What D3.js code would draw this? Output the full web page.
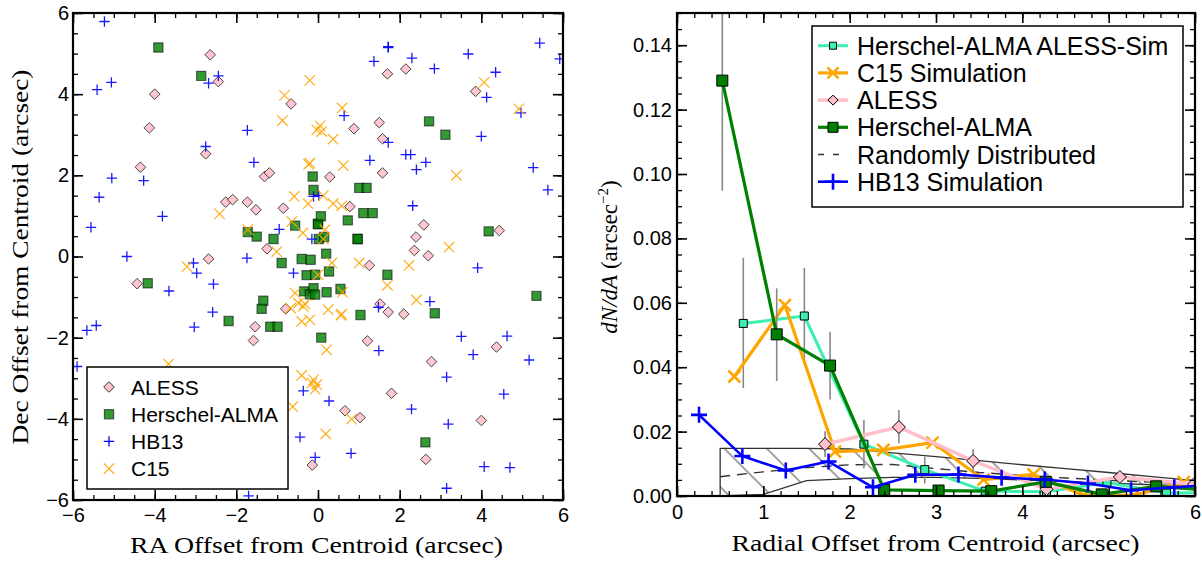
<!DOCTYPE html>
<html>
<head>
<meta charset="utf-8">
<script src="https://cdn.jsdelivr.net/npm/d3@7"></script>
<style>
	body { margin: 0; background: #fff; }
	svg { display: block; }
	.tick text { font-family: "Liberation Sans", Arial, sans-serif; font-size: 20px; fill: #000; }
	.tick line { stroke: #000; }
	.lab { font-family: "Liberation Serif", "Times New Roman", serif; font-size: 23px; fill: #000; }
	.leg { font-family: "Liberation Sans", Arial, sans-serif; fill: #000; }
</style>
</head>
<body>
<svg id="fig" width="1202" height="563"></svg>
<script>
// ---- Left panel: source positions (arcsec offsets from centroid) ----
var alessPts = [[-2.64,4.97],[-2.44,4.31],[-4.00,4.00],[-4.13,3.17],[-0.66,3.76],[-2.75,2.53],[-4.35,2.20],[-1.31,1.97],[-1.19,2.06],[-2.26,1.34],[-2.09,1.40],[-1.73,1.34],[-1.52,1.15],[-0.85,1.19],[-1.25,0.19],[-2.68,-0.06],[1.70,4.50],[2.15,4.62],[3.86,4.07],[0.88,3.15],[1.50,3.30],[1.58,2.90],[1.58,2.06],[0.29,1.96],[0.78,1.23],[2.59,0.78],[2.40,0.48],[2.36,0.15],[2.70,0.02],[4.44,0.64],[1.26,-0.22],[-4.43,-0.67],[-0.79,-1.29],[-1.54,-1.73],[-1.58,-2.07],[-0.14,-5.14],[1.52,-1.17],[1.72,-1.37],[2.10,-1.42],[1.21,-2.08],[2.78,-2.59],[4.37,-2.23],[1.80,-3.37],[0.66,-3.80],[1.03,-3.97],[4.00,-4.04],[2.64,-5.00]];

var haPts = [[-3.91,5.15],[-2.86,4.45],[-1.72,0.60],[-1.50,0.49],[-1.09,0.43],[-0.56,0.76],[-0.89,-0.16],[-0.13,1.97],[-0.11,1.64],[-0.40,-0.06],[-0.18,-0.08],[0.00,0.80],[0.00,0.80],[0.02,0.43],[2.72,3.33],[3.12,3.00],[1.01,1.69],[1.19,1.69],[1.11,1.07],[1.34,1.07],[0.73,0.89],[0.07,0.99],[0.97,0.43],[0.97,0.43],[0.15,0.48],[4.18,0.62],[0.20,0.07],[1.70,-0.45],[0.27,-0.37],[-0.28,-0.46],[-0.07,-0.45],[-4.17,-0.66],[-2.19,-1.59],[-1.34,-1.09],[-1.38,-1.29],[-1.17,-1.73],[-0.99,-1.73],[-0.34,-0.86],[-0.20,-0.93],[-0.11,-0.78],[0.08,-2.00],[5.35,-0.97],[2.86,-1.40],[1.04,-1.44],[2.63,-4.58],[0.21,-0.88],[0.55,-0.80],[-0.07,-0.94]];

var hb13Pts = [[-5.23,5.79],[-5.41,4.11],[-5.06,4.29],[-2.68,4.27],[-2.44,4.45],[-1.73,3.11],[-2.75,2.71],[-1.57,2.32],[-5.05,1.93],[-4.27,1.87],[-5.36,1.46],[-3.81,0.99],[-5.56,0.72],[-4.68,0.00],[-1.74,-0.04],[-0.95,0.67],[-3.05,-0.16],[-2.97,-0.41],[-0.60,-0.41],[-0.11,1.48],[0.02,1.50],[-0.15,0.43],[1.72,5.15],[1.72,5.17],[1.37,4.81],[2.30,4.89],[2.85,4.63],[3.68,4.99],[4.35,4.54],[5.43,5.26],[5.92,4.87],[4.13,3.92],[4.97,3.54],[0.64,3.47],[1.72,2.81],[4.00,2.96],[1.27,2.37],[2.15,2.51],[2.27,2.51],[2.64,2.32],[2.41,2.14],[5.27,2.19],[5.63,1.64],[2.32,1.25],[3.91,-0.28],[-3.65,-0.85],[-2.56,-0.68],[-2.58,-1.37],[-3.03,-1.74],[-5.66,-1.82],[-5.43,-1.70],[-5.90,-2.71],[-0.36,-3.31],[-0.44,-4.45],[-0.07,-4.95],[-1.70,-5.90],[2.74,-1.11],[1.48,-1.25],[3.51,-1.97],[4.63,-1.96],[3.80,-2.42],[5.17,-2.55],[1.49,-2.32],[3.15,-2.97],[4.55,-3.39],[2.29,-3.76],[0.27,-3.56],[3.19,-4.13],[0.81,-4.85],[4.07,-5.18],[4.70,-5.20],[3.15,-5.71]];

var c15Pts = [[-0.20,4.34],[-0.82,3.97],[-0.87,3.35],[-0.03,3.12],[-0.20,2.30],[-0.23,2.27],[-2.41,1.05],[-1.72,0.66],[-0.58,1.48],[-0.24,1.30],[-0.64,0.86],[-0.37,0.58],[-1.01,0.12],[-3.21,-0.25],[0.59,3.66],[4.07,4.29],[4.92,3.64],[0.05,3.22],[0.09,3.08],[0.37,2.89],[0.62,2.24],[3.39,2.00],[0.13,1.50],[0.37,1.30],[0.58,1.25],[0.17,0.66],[0.13,0.43],[0.34,-0.16],[1.01,-0.16],[2.23,-0.22],[3.21,0.23],[0.00,-0.45],[-3.66,-2.65],[-0.62,-3.70],[-0.40,-2.93],[-0.15,-3.12],[-0.07,-3.27],[-0.11,-3.04],[-0.56,-0.90],[-0.48,-1.15],[-0.36,-1.23],[-0.40,-1.60],[-0.20,-1.56],[-0.67,-1.27],[-0.32,-1.17],[1.70,-0.71],[2.41,-1.07],[0.60,-0.88],[0.25,-1.31],[0.58,-1.42],[0.56,-1.45],[0.21,-2.30],[-0.03,-3.16],[0.82,-4.01],[0.19,-4.37]];

var leftLegend = ["ALESS", "Herschel-ALMA", "HB13", "C15"];

// ---- Right panel: radial profiles dN/dA ----
var haR = [0.525, 1.155, 1.773, 2.40, 3.03, 3.64, 4.27, 4.92, 5.55, 6.18];
var haD = [0.129, 0.0502, 0.0405, 0.0019, 0.0017, 0.0015, 0.0044, 0.0005, 0.0030, 0.0018];
var haErr = [[0.0948, 0.163], [0.0357, 0.0645], [0.030, 0.051]];

var simR = [0.768, 1.475, 2.165, 2.87, 3.57, 4.28, 4.98, 5.67, 6.37];
var simD = [0.0536, 0.0559, 0.0161, 0.0082, 0.0015, 0.0013, 0.0042, 0.0009, 0.0012];
var simErr = [[0.0335, 0.074], [0.041, 0.0708], [0.0086, 0.0236], [0.0039, 0.0122]];

var c15R = [0.664, 1.25, 1.83, 2.39, 2.96, 3.55, 4.13, 4.71, 5.29, 5.87];
var c15D = [0.0371, 0.0593, 0.0138, 0.0143, 0.0166, 0.0051, 0.0067, 0.0002, 0.0002, 0.0043];

var alessR = [1.715, 2.57, 3.43, 4.28, 5.13, 5.99];
var alessD = [0.0161, 0.0214, 0.0109, 0.0021, 0.0059, 0.0037];
var alessErr = [[0.0121, 0.0201], [0.0164, 0.0267], [0.0073, 0.0145], null, [0.0045, 0.0075]];

var hbR = [0.255, 0.757, 1.26, 1.755, 2.27, 2.76, 3.26, 3.76, 4.26, 4.76, 5.26, 5.76, 6.26];
var hbD = [0.0252, 0.0124, 0.0079, 0.0107, 0.0027, 0.0066, 0.0067, 0.0057, 0.0051, 0.0039, 0.0018, 0.0027, 0.0035];

var randR = [0.5, 1.0, 1.5, 2.0, 2.5, 3.0, 3.5, 4.0, 4.5, 5.0, 5.5, 6.0];
var randMean = [0.0060, 0.0075, 0.0088, 0.0097, 0.0098, 0.0085, 0.0073, 0.0064, 0.0056, 0.0049, 0.0043, 0.0037];
var randHi = [0.0148, 0.0148, 0.0148, 0.0146, 0.0134, 0.0122, 0.0110, 0.0097, 0.0085, 0.0073, 0.0060, 0.0048];
var randLo = [0.0, 0.0005, 0.0048, 0.0054, 0.0058, 0.0058, 0.0055, 0.0050, 0.0045, 0.0040, 0.0035, 0.0030];

var rightLegend = ["Herschel-ALMA ALESS-Sim", "C15 Simulation", "ALESS", "Herschel-ALMA", "Randomly Distributed", "HB13 Simulation"];

var svg = d3.select("#fig");

// Marker path helpers
function diamond(s) { return "M0," + (-s) + "L" + s + ",0L0," + s + "L" + (-s) + ",0Z"; }
function square(s) { return "M" + (-s) + "," + (-s) + "H" + s + "V" + s + "H" + (-s) + "Z"; }
function plus(s) { return "M" + (-s) + ",0H" + s + "M0," + (-s) + "V" + s; }
function cross(s) { return "M" + (-s) + "," + (-s) + "L" + s + "," + s + "M" + (-s) + "," + s + "L" + s + "," + (-s); }

// Inward ticks on all four sides plus a heavy frame
function frame(x, y, xMaj, xMin, yMaj, yMin, xFmt, yFmt, xPad, yPad) {
	var x0 = x.range()[0], x1 = x.range()[1], y0 = y.range()[0], y1 = y.range()[1];
	var g = svg.append("g");
	var sets = [
		[d3.axisBottom(x).tickValues(xMaj).tickFormat(xFmt).tickPadding(xPad), "translate(0," + y0 + ")", 10],
		[d3.axisBottom(x).tickValues(xMin).tickFormat(""), "translate(0," + y0 + ")", 5],
		[d3.axisTop(x).tickValues(xMaj).tickFormat(""), "translate(0," + y1 + ")", 10],
		[d3.axisTop(x).tickValues(xMin).tickFormat(""), "translate(0," + y1 + ")", 5],
		[d3.axisLeft(y).tickValues(yMaj).tickFormat(yFmt).tickPadding(yPad), "translate(" + x0 + ",0)", 10],
		[d3.axisLeft(y).tickValues(yMin).tickFormat(""), "translate(" + x0 + ",0)", 5],
		[d3.axisRight(y).tickValues(yMaj).tickFormat(""), "translate(" + x1 + ",0)", 10],
		[d3.axisRight(y).tickValues(yMin).tickFormat(""), "translate(" + x1 + ",0)", 5]
	];
	sets.forEach(function (s) {
		var a = g.append("g").attr("transform", s[1]).call(s[0].tickSizeInner(-s[2]).tickSizeOuter(0));
		a.select(".domain").remove();
		a.selectAll(".tick line").attr("stroke-width", s[2] == 10 ? 1.6 : 1.3);
	});
	g.append("rect").attr("x", x0).attr("y", y1).attr("width", x1 - x0).attr("height", y0 - y1)
		.attr("fill", "none").attr("stroke", "#000").attr("stroke-width", 2.2);
}

function range(a, b, step) {
	var out = [];
	for (var v = a; v <= b + 1e-9; v += step) out.push(+v.toFixed(4));
	return out;
}

// ================= LEFT PANEL =================
var xL = d3.scaleLinear().domain([-6, 6]).range([73, 563]);
var yL = d3.scaleLinear().domain([-6, 6]).range([500, 13]);

svg.append("clipPath").attr("id", "clipL").append("rect")
	.attr("x", 73).attr("y", 13).attr("width", 490).attr("height", 487);
var gL = svg.append("g").attr("clip-path", "url(#clipL)");

gL.selectAll("path.aless").data(alessPts).enter().append("path")
	.attr("transform", function (d) { return "translate(" + xL(d[0]) + "," + yL(d[1]) + ")"; })
	.attr("d", diamond(5.3)).attr("fill", "pink").attr("stroke", "#333").attr("stroke-width", 1).attr("opacity", 0.9);
gL.selectAll("path.ha").data(haPts).enter().append("path")
	.attr("transform", function (d) { return "translate(" + xL(d[0]) + "," + yL(d[1]) + ")"; })
	.attr("d", square(4.6)).attr("fill", "green").attr("fill-opacity", 0.8)
	.attr("stroke", "#000").attr("stroke-opacity", 0.55).attr("stroke-width", 1.2);
gL.selectAll("path.hb").data(hb13Pts).enter().append("path")
	.attr("transform", function (d) { return "translate(" + xL(d[0]) + "," + yL(d[1]) + ")"; })
	.attr("d", plus(5.2)).attr("fill", "none").attr("stroke", "blue").attr("stroke-width", 1.3).attr("opacity", 0.9);
gL.selectAll("path.c15").data(c15Pts).enter().append("path")
	.attr("transform", function (d) { return "translate(" + xL(d[0]) + "," + yL(d[1]) + ")"; })
	.attr("d", cross(5.2)).attr("fill", "none").attr("stroke", "orange").attr("stroke-width", 1.2).attr("opacity", 0.9);

frame(xL, yL, range(-6, 6, 2), range(-6, 6, 0.5), range(-6, 6, 2), range(-6, 6, 0.5),
	d3.format("d"), d3.format("d"), 8, 4);

// left legend
var legL = svg.append("g");
legL.append("rect").attr("x", 87).attr("y", 367).attr("width", 201).attr("height", 122)
	.attr("fill", "#fff").attr("stroke", "#000").attr("stroke-width", 1.5);
var legLMarks = [
	function (g) { g.append("path").attr("d", diamond(5.3)).attr("fill", "pink").attr("stroke", "#333"); },
	function (g) { g.append("path").attr("d", square(4.6)).attr("fill", "green").attr("fill-opacity", 0.8).attr("stroke", "#000").attr("stroke-opacity", 0.55).attr("stroke-width", 1.2); },
	function (g) { g.append("path").attr("d", plus(5.2)).attr("stroke", "blue").attr("stroke-width", 1.3); },
	function (g) { g.append("path").attr("d", cross(5.2)).attr("stroke", "orange").attr("stroke-width", 1.2); }
];
leftLegend.forEach(function (t, i) {
	var cy = 387 + i * 27.2;
	legLMarks[i](legL.append("g").attr("transform", "translate(109," + cy + ")"));
	legL.append("text").attr("class", "leg").attr("x", 131).attr("y", cy + 7.5)
		.style("font-size", "21px").text(t);
});

// left axis titles
svg.append("text").attr("class", "lab").attr("x", 316.5).attr("y", 553).attr("text-anchor", "middle")
	.attr("textLength", 373).attr("lengthAdjust", "spacingAndGlyphs")
	.text("RA Offset from Centroid (arcsec)");
svg.append("text").attr("class", "lab").attr("transform", "translate(28,257) rotate(-90)")
	.attr("text-anchor", "middle").attr("textLength", 375).attr("lengthAdjust", "spacingAndGlyphs")
	.text("Dec Offset from Centroid (arcsec)");

// ================= RIGHT PANEL =================
var xR = d3.scaleLinear().domain([0, 6]).range([677, 1195]);
var yR = d3.scaleLinear().domain([0, 0.15]).range([496, 13]);

var defs = svg.append("defs");
defs.append("clipPath").attr("id", "clipR").append("rect")
	.attr("x", 677).attr("y", 13).attr("width", 518).attr("height", 483);
var hatch = defs.append("pattern").attr("id", "hatch").attr("patternUnits", "userSpaceOnUse")
	.attr("width", 30).attr("height", 30).attr("patternTransform", "rotate(-45)");
hatch.append("line").attr("x1", 15).attr("y1", 0).attr("x2", 15).attr("y2", 30)
	.attr("stroke", "#333").attr("stroke-width", 0.9);

var gR = svg.append("g").attr("clip-path", "url(#clipR)");

// random-distribution envelope and mean
var envelope = d3.area()
	.x(function (d, i) { return xR(randR[i]); })
	.y0(function (d, i) { return yR(randLo[i]); })
	.y1(function (d, i) { return yR(randHi[i]); });
gR.append("path").datum(randR).attr("d", envelope)
	.attr("fill", "url(#hatch)").attr("stroke", "#333").attr("stroke-width", 1.3);
gR.append("path").datum(randR)
	.attr("d", d3.line().x(function (d) { return xR(d); }).y(function (d, i) { return yR(randMean[i]); }))
	.attr("fill", "none").attr("stroke", "#333").attr("stroke-width", 1.4).attr("stroke-dasharray", "10,7");

function errBars(rs, errs) {
	errs.forEach(function (e, i) {
		if (!e) return;
		gR.append("line").attr("x1", xR(rs[i])).attr("x2", xR(rs[i]))
			.attr("y1", yR(e[0])).attr("y2", yR(e[1]))
			.attr("stroke", "#888").attr("stroke-width", 1.6);
	});
}

function series(rs, ds, color, width, marker, mStyle) {
	var pts = rs.map(function (r, i) { return [r, ds[i]]; });
	gR.append("path").datum(pts)
		.attr("d", d3.line().x(function (d) { return xR(d[0]); }).y(function (d) { return yR(d[1]); }))
		.attr("fill", "none").attr("stroke", color).attr("stroke-width", width).attr("stroke-linejoin", "round");
	var m = gR.selectAll(null).data(pts).enter().append("path")
		.attr("transform", function (d) { return "translate(" + xR(d[0]) + "," + yR(d[1]) + ")"; })
		.attr("d", marker);
	mStyle(m);
}

var styles = {
	sim: function (m) { m.attr("fill", "#3cf0b0").attr("stroke", "#000").attr("stroke-width", 1); },
	c15: function (m) { m.attr("fill", "none").attr("stroke", "orange").attr("stroke-width", 2.6); },
	aless: function (m) { m.attr("fill", "pink").attr("stroke", "#000").attr("stroke-width", 1); },
	ha: function (m) { m.attr("fill", "green").attr("stroke", "#000").attr("stroke-width", 1); },
	hb: function (m) { m.attr("fill", "none").attr("stroke", "blue").attr("stroke-width", 2.6); }
};

errBars(simR, simErr);
series(simR, simD, "#3cf0b0", 3, square(4), styles.sim);
series(c15R, c15D, "orange", 3.2, cross(6), styles.c15);
errBars(alessR, alessErr);
series(alessR, alessD, "pink", 3.6, diamond(6.5), styles.aless);
errBars(haR, haErr);
series(haR, haD, "green", 3.2, square(5.5), styles.ha);
series(hbR, hbD, "blue", 2.6, plus(8), styles.hb);

frame(xR, yR, range(0, 6, 1), range(0, 6, 0.2), range(0, 0.14, 0.02), range(0, 0.15, 0.005),
	d3.format("d"), d3.format(".2f"), 9, 5);

// right legend
var legR = svg.append("g");
legR.append("rect").attr("x", 812).attr("y", 26).attr("width", 371).attr("height", 181)
	.attr("fill", "#fff").attr("stroke", "#000").attr("stroke-width", 1.5);
var legRItems = [
	["#3cf0b0", 3, square(3.5), styles.sim, null],
	["orange", 3.2, cross(5.5), styles.c15, null],
	["pink", 3.6, diamond(5), styles.aless, null],
	["green", 3.2, square(5), styles.ha, null],
	["#333", 1.4, null, null, "6,9"],
	["blue", 2.6, plus(8), styles.hb, null]
];
rightLegend.forEach(function (t, i) {
	var cy = 45.7 + i * 27.2;
	var it = legRItems[i];
	legR.append("line").attr("x1", 818).attr("x2", 848).attr("y1", cy).attr("y2", cy)
		.attr("stroke", it[0]).attr("stroke-width", it[1]).attr("stroke-dasharray", it[4]);
	if (it[2]) it[3](legR.append("path").attr("transform", "translate(833," + cy + ")").attr("d", it[2]));
	legR.append("text").attr("class", "leg").attr("x", 857).attr("y", cy + 9)
		.style("font-size", "25px").text(t);
});

// right axis titles
svg.append("text").attr("class", "lab").attr("x", 935.5).attr("y", 551).attr("text-anchor", "middle")
	.attr("textLength", 408).attr("lengthAdjust", "spacingAndGlyphs")
	.text("Radial Offset from Centroid (arcsec)");
var yt = svg.append("text").attr("class", "lab").attr("transform", "translate(617,257) rotate(-90)")
	.attr("text-anchor", "middle");
yt.append("tspan").style("font-style", "italic").text("dN/dA");
yt.append("tspan").text(" (arcsec");
yt.append("tspan").attr("dy", -9).style("font-size", "15px").text("\u22122");
yt.append("tspan").attr("dy", 9).text(")");
</script>
</body>
</html>
